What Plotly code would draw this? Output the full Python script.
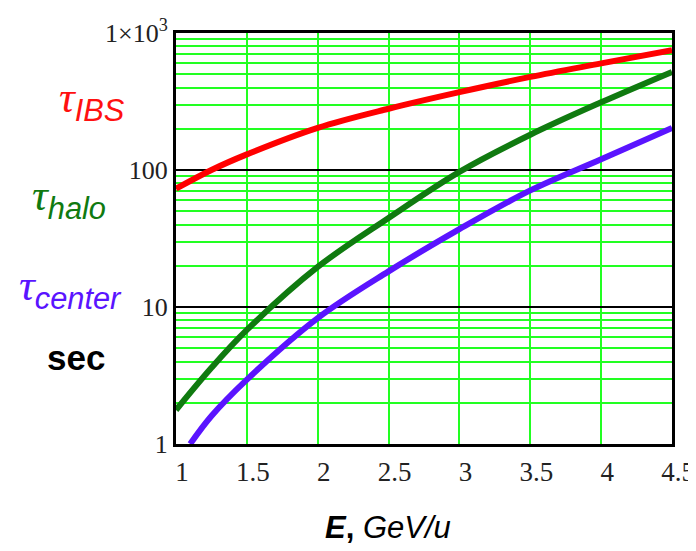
import plotly.graph_objects as go

# Data
E = [1.0, 1.25, 1.5, 2.0, 2.5, 3.0, 3.5, 4.0, 4.5]
tau_ibs = [73, 100, 130, 203, 280, 370, 478, 600, 750]
tau_halo = [1.77, 3.6, 6.8, 19.6, 44.7, 97, 181, 312, 520]
E_center = [1.1, 1.25, 1.5, 2.0, 2.5, 3.0, 3.5, 4.0, 4.5]
tau_center = [1.0, 1.6, 2.95, 8.3, 18.2, 37, 71, 120, 203]

x_ticks = [1, 1.5, 2, 2.5, 3, 3.5, 4, 4.5]
x_ticktext = ["1", "1.5", "2", "2.5", "3", "3.5", "4", "4.5"]
y_ticks = [1, 10, 100, 1000]
y_ticktext = ["1", "10", "100", "1×10<sup>3</sup>"]

# page body has an 8px default margin; compensate so the plot lands where the reference has it
OFF = 8
W, H = 696 - OFF, 551 - OFF
L, R, T, B = 176 - OFF, 24, 33 - OFF, 107
pw, ph = W - L - R, H - T - B


def px(x):
    return (x - OFF - L) / pw


def py(y):
    return 1 - (y - OFF - T) / ph


fig = go.Figure()
fig.add_trace(go.Scatter(x=E, y=tau_ibs, mode="lines", line=dict(color="#ff0000", width=6, shape="spline")))
fig.add_trace(go.Scatter(x=E, y=tau_halo, mode="lines", line=dict(color="#107a10", width=6, shape="spline")))
fig.add_trace(go.Scatter(x=E_center, y=tau_center, mode="lines", line=dict(color="#5a14ff", width=6, shape="spline")))

serif = "Liberation Serif, Times New Roman, serif"
sans = "Liberation Sans, Arial, sans-serif"

fig.update_layout(
    width=W, height=H,
    margin=dict(l=L, r=R, t=T, b=B, autoexpand=False),
    paper_bgcolor="white", plot_bgcolor="white",
    showlegend=False,
    xaxis=dict(
        range=[1, 4.5], tickvals=x_ticks, ticktext=x_ticktext,
        showgrid=True, gridcolor="#22ff22", gridwidth=1.5,
        showline=True, linecolor="black", linewidth=3, mirror=True,
        ticks="", zeroline=False, ticklabelshift=6, ticklabelstandoff=2,
        tickfont=dict(family=serif, size=27, color="#222"),
    ),
    yaxis=dict(
        type="log", range=[0, 3], tickvals=y_ticks, ticktext=y_ticktext,
        showgrid=True, gridcolor="black", gridwidth=1.5,
        showline=True, linecolor="black", linewidth=3, mirror=True,
        ticks="", zeroline=False, ticklabelstandoff=0,
        tickfont=dict(family=serif, size=26, color="#222"),
        minor=dict(dtick="D1", showgrid=True, gridcolor="#22ff22", gridwidth=1.5, ticks=""),
        layer="below traces",
    ),
)

tau = "<span style='font-family:Liberation Serif'><i>τ</i></span>"
annots = [
    (92, 100, tau + "<sub><i>IBS</i></sub>", "#ff1010"),
    (69, 198, tau + "<sub><i>halo</i></sub>", "#107a10"),
    (70, 288, tau + "<sub><i>center</i></sub>", "#5a14ff"),
]
for x, y, t, c in annots:
    fig.add_annotation(x=px(x), y=py(y), xref="paper", yref="paper", text=t, showarrow=False,
                       font=dict(family=sans, size=44, color=c), xanchor="center", yanchor="middle")
fig.add_annotation(x=px(76), y=py(357), xref="paper", yref="paper", text="<b>sec</b>", showarrow=False,
                   font=dict(family=sans, size=35, color="black"), xanchor="center", yanchor="middle")
fig.add_annotation(x=px(388), y=py(527), xref="paper", yref="paper",
                   text="<b><i>E</i>,</b> <i>GeV/u</i>", showarrow=False,
                   font=dict(family=sans, size=31, color="black"), xanchor="center", yanchor="middle")

fig.write_html("out.html")
